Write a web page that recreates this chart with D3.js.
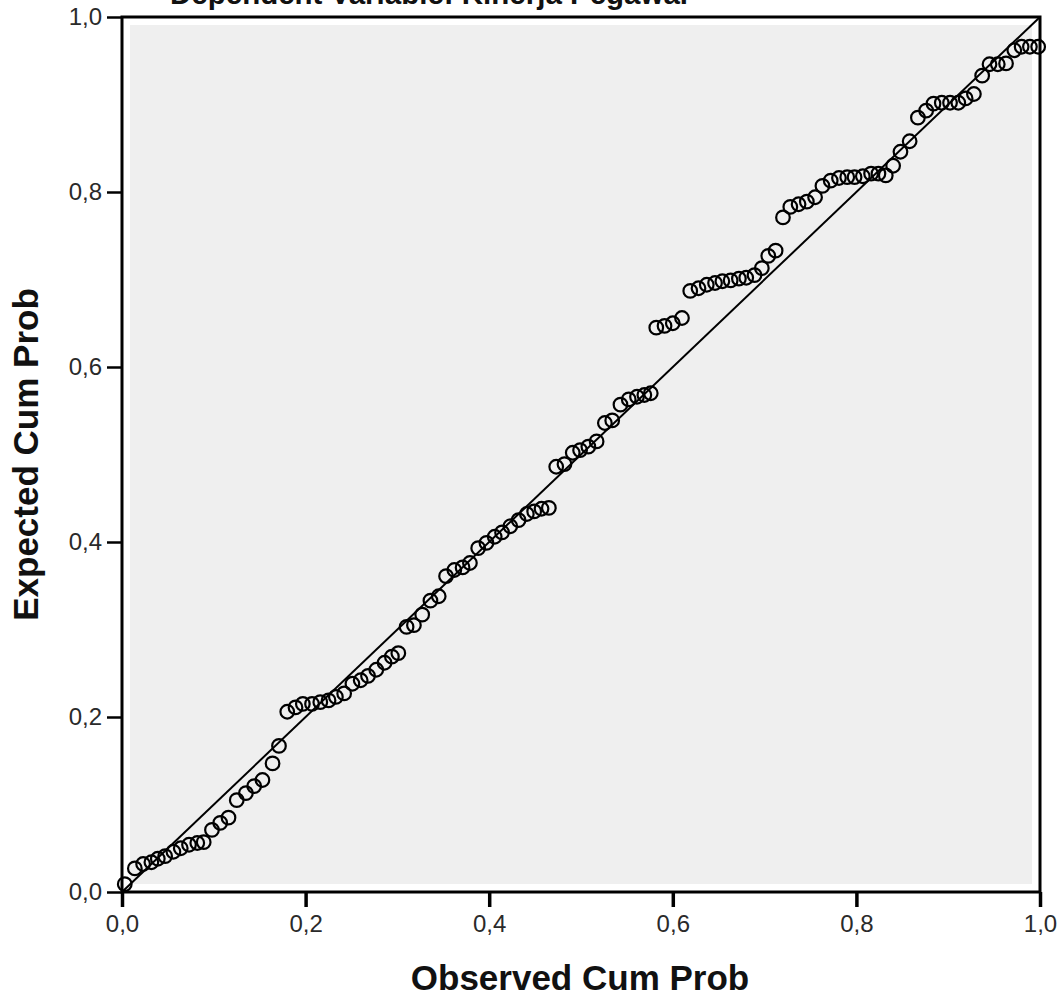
<!DOCTYPE html>
<meta charset="utf-8">
<style>

    body { margin: 0; background: #fff; }

    .axis path, .axis line {
        stroke: #000;
    }

    .axis text {
        font: 24px "Liberation Sans", Arial, sans-serif;
        fill: #2a2a2a;
    }

    .title {
        font: bold 35px "Liberation Sans", Arial, sans-serif;
        fill: #111;
    }

    .dot {
        fill: none;
        stroke: #000;
        stroke-width: 2.2px;
    }

</style>
<svg width="1064" height="997"></svg>
<script src="https://d3js.org/d3.v7.min.js"></script>
<script>

    // observed / expected cumulative probabilities
    var observed = [0.003, 0.014, 0.023, 0.032, 0.039, 0.047, 0.056, 0.064, 0.073, 0.082,
        0.089, 0.098, 0.107, 0.116, 0.125, 0.135, 0.144, 0.153, 0.164, 0.171,
        0.180, 0.189, 0.197, 0.207, 0.216, 0.225, 0.233, 0.242, 0.251, 0.260,
        0.268, 0.277, 0.286, 0.294, 0.301, 0.310, 0.318, 0.327, 0.336, 0.345,
        0.353, 0.362, 0.371, 0.379, 0.388, 0.397, 0.406, 0.414, 0.423, 0.432,
        0.441, 0.449, 0.457, 0.465, 0.473, 0.482, 0.491, 0.499, 0.508, 0.517,
        0.526, 0.534, 0.543, 0.552, 0.561, 0.569, 0.576, 0.582, 0.591, 0.600,
        0.610, 0.619, 0.628, 0.637, 0.646, 0.654, 0.663, 0.672, 0.680, 0.689,
        0.697, 0.704, 0.712, 0.720, 0.728, 0.737, 0.746, 0.755, 0.763, 0.772,
        0.781, 0.790, 0.798, 0.807, 0.816, 0.824, 0.832, 0.840, 0.848, 0.858,
        0.867, 0.876, 0.884, 0.893, 0.902, 0.911, 0.919, 0.928, 0.937, 0.945,
        0.954, 0.963, 0.972, 0.980, 0.989, 0.998];

    var expected = [0.009, 0.027, 0.032, 0.034, 0.038, 0.041, 0.046, 0.050, 0.054, 0.056,
        0.057, 0.071, 0.079, 0.085, 0.105, 0.113, 0.121, 0.128, 0.147, 0.167,
        0.206, 0.211, 0.215, 0.215, 0.217, 0.219, 0.223, 0.227, 0.238, 0.242,
        0.247, 0.254, 0.262, 0.269, 0.273, 0.303, 0.305, 0.317, 0.333, 0.338,
        0.361, 0.368, 0.371, 0.376, 0.393, 0.399, 0.406, 0.411, 0.418, 0.425,
        0.432, 0.435, 0.438, 0.439, 0.486, 0.489, 0.502, 0.505, 0.509, 0.515,
        0.536, 0.539, 0.557, 0.563, 0.566, 0.568, 0.570, 0.645, 0.647, 0.650,
        0.656, 0.687, 0.690, 0.694, 0.696, 0.698, 0.699, 0.701, 0.702, 0.705,
        0.713, 0.727, 0.733, 0.771, 0.783, 0.786, 0.789, 0.794, 0.807, 0.813,
        0.816, 0.817, 0.817, 0.818, 0.821, 0.821, 0.819, 0.830, 0.846, 0.858,
        0.885, 0.893, 0.901, 0.902, 0.902, 0.902, 0.907, 0.912, 0.933, 0.946,
        0.946, 0.947, 0.962, 0.966, 0.966, 0.966];

    var ticks = [0, 0.2, 0.4, 0.6, 0.8, 1.0];

    var svg = d3.select("svg"),
        margin = {top: 17, right: 24, bottom: 105, left: 122},
        width = svg.attr("width") - margin.left - margin.right,
        height = svg.attr("height") - margin.top - margin.bottom,
        g = svg.append("g").attr("transform", "translate(" + margin.left + "," + margin.top + ")");

    var x = d3.scaleLinear().domain([0, 1]).range([0, width]),
        y = d3.scaleLinear().domain([0, 1]).range([height, 0]);

    // comma as decimal mark
    var fmt = d3.formatLocale({decimal: ",", thousands: ".", grouping: [3], currency: ["", ""]}).format(".1f");

    // plot background, inset a little from the frame
    g.append("rect")
        .attr("x", 8)
        .attr("y", 8)
        .attr("width", width - 16)
        .attr("height", height - 16)
        .attr("fill", "#efefef");

    // title, mostly cut off by the top edge
    svg.append("text")
        .attr("class", "title")
        .attr("x", 170)
        .attr("y", 4)
        .style("font-size", "29.5px")
        .text("Dependent Variable: Kinerja Pegawai");

    g.append("g")
        .attr("class", "axis axis--x")
        .attr("transform", "translate(0," + height + ")")
        .call(d3.axisBottom(x).tickValues(ticks).tickFormat(fmt).tickSize(15).tickPadding(8))
        .call(function(a) { a.select(".domain").remove(); })
        .selectAll("line").attr("stroke-width", 3.5);

    g.append("g")
        .attr("class", "axis axis--y")
        .call(d3.axisLeft(y).tickValues(ticks).tickFormat(fmt).tickSize(15).tickPadding(5))
        .call(function(a) { a.select(".domain").remove(); })
        .selectAll("line").attr("stroke-width", 2.5);

    // frame
    g.append("rect")
        .attr("width", width)
        .attr("height", height)
        .attr("fill", "none")
        .attr("stroke", "#000")
        .attr("stroke-width", 3);

    // reference diagonal
    g.append("line")
        .attr("x1", x(0))
        .attr("y1", y(0))
        .attr("x2", x(1))
        .attr("y2", y(1))
        .attr("stroke", "#000")
        .attr("stroke-width", 2);

    var points = observed.map(function(d, i) { return {obs: d, exp: expected[i]}; });

    g.selectAll(".dot")
        .data(points)
        .enter().append("circle")
        .attr("class", "dot")
        .attr("cx", function(d) { return x(d.obs); })
        .attr("cy", function(d) { return y(d.exp); })
        .attr("r", 6.8);

    svg.append("text")
        .attr("class", "title")
        .attr("x", 580)
        .attr("y", 990)
        .attr("text-anchor", "middle")
        .text("Observed Cum Prob");

    svg.append("text")
        .attr("class", "title")
        .attr("transform", "translate(38," + (margin.top + height / 2) + ") rotate(-90)")
        .attr("text-anchor", "middle")
        .text("Expected Cum Prob");

</script>
